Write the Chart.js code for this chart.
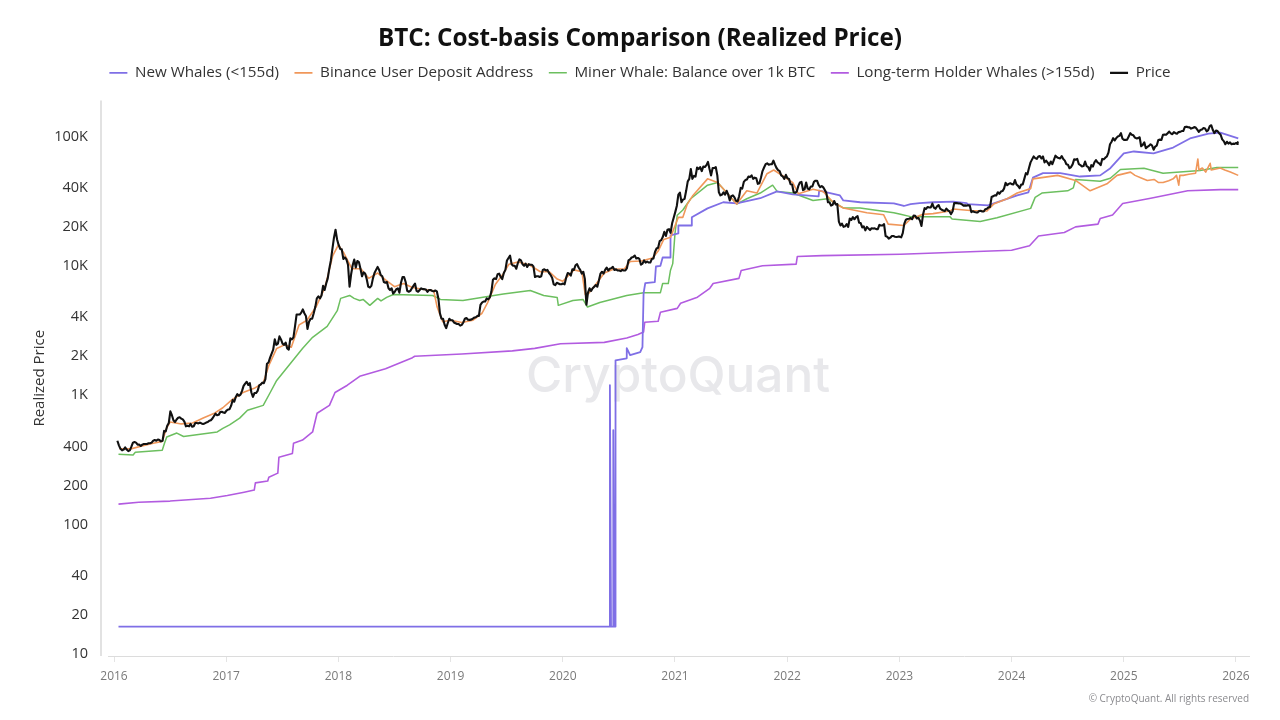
<!DOCTYPE html>
<html><head><meta charset="utf-8">
<script src="https://cdn.jsdelivr.net/npm/chart.js@4"></script>
<style>
html,body{margin:0;padding:0;background:#fff;width:1280px;height:720px;overflow:hidden;font-family:"Open Sans",sans-serif}
#wrap{position:relative;width:1280px;height:720px}
#wm{position:absolute;left:526px;top:344px;font:500 49.5px "Inter","Open Sans",sans-serif;color:#e8e8eb;white-space:nowrap;z-index:0}
#cp{position:absolute;right:31px;top:691px;font:10px "Open Sans",sans-serif;color:#8a8a8e;white-space:nowrap;z-index:2}
canvas{position:absolute;left:0;top:0;z-index:1}
</style></head><body>
<div id="wrap">
<div id="wm">CryptoQuant</div>
<canvas id="c" width="1280" height="720"></canvas>
<div id="cp">© CryptoQuant. All rights reserved</div>
</div>
<script>
const titleText = "BTC: Cost-basis Comparison (Realized Price)";
const yAxisTitle = "Realized Price";
const yearTicks = [2016,2017,2018,2019,2020,2021,2022,2023,2024,2025,2026];
const priceTicks = [10,20,40,100,200,400,1000,2000,4000,10000,20000,40000,100000];

// Price readings: about one every five days, by year
const price2016 = [445,410,385,375,380,395,380,370,375,400,430,435,
430,415,415,405,415,420,420,420,425,425,430,445,
450,445,455,450,440,445,530,525,580,610,750,700,
640,620,650,670,675,660,650,625,575,580,575,600,
570,575,610,610,605,615,605,600,605,615,620,635,
640,660,690,720,700,705,740,745,735,730,760,775];
const price2017 = [780,830,920,890,970,1020,990,1010,1080,1180,1230,1270,
1200,1240,1050,970,1040,1040,1080,1190,1210,1250,1240,1330,
1750,1790,1950,2100,2250,2700,2450,2500,2850,2700,2500,2450,
2550,2300,2250,2750,2700,2800,3400,4200,4200,4200,4350,4600,
4300,4100,3250,3700,3900,3900,4300,4800,5600,5800,5600,5900,
7000,6500,7300,8000,9500,11000,13500,16500,19000,16000,14500,13500];
const price2018 = [13400,11300,11600,11200,10200,6900,8600,10100,11200,9700,10900,10700,
9500,8300,8900,8700,7900,6900,6800,7000,8000,8800,9300,9800,
9300,8500,8300,7500,7400,7500,6700,6500,6700,6100,6300,6600,
6700,6200,7400,8200,8200,7500,6400,6300,6400,6700,7000,7300,
6400,6300,6500,6700,6600,6600,6550,6300,6500,6500,6400,6350,
6450,6350,5600,4300,3900,3900,3500,3300,3600,3900,3800,3800];
const price2019 = [3650,3600,3550,3550,3450,3500,3650,3900,3950,3830,3820,3840,
3900,3980,4000,4100,4100,5000,5200,5300,5300,5600,5500,5700,
6300,7800,8000,7900,8600,8700,8200,7900,8800,9300,11000,11500,
12000,10300,10000,10000,9500,10500,11200,11000,10300,10000,10400,9800,
10300,10200,10200,9900,8200,8300,8300,8200,8300,9300,9400,9200,
9300,8800,8500,8100,7200,7100,7400,7300,7200,7200,7300,7200];
const price2020 = [8100,8800,8700,8400,9400,9300,10100,10300,9700,9300,8700,9000,
7900,5000,6200,6700,6400,6700,6900,7100,6900,7700,8700,9000,
8700,9300,9700,9200,9500,9600,9800,9300,9400,9200,9200,9100,
9300,9200,9200,9600,11000,11200,11600,11700,12000,11400,11500,11300,
10200,10400,11000,10600,10800,10600,10600,11300,11400,12800,13600,13800,
15500,15800,16700,18300,17000,19000,19200,18000,21300,23500,26000,29000];
const price2021 = [35500,36800,31000,32500,33000,38000,44800,47000,56000,47000,49500,48900,
57500,56000,58000,54000,58500,58000,60000,63500,56000,50000,57000,57000,
58000,50000,37000,35000,35500,37000,35500,38000,35500,32000,34500,35000,
33800,31800,31500,34500,40000,39500,44500,46000,46500,49000,48500,50000,
47000,48000,47500,43000,43500,48000,54000,57500,61000,62000,60500,61000,
61000,65000,60500,57000,55000,54000,50000,49000,47000,50500,47500,47000];
const price2022 = [42700,42500,37000,36800,37500,41500,44000,44500,38500,39000,44000,39500,
39000,41000,41000,44500,45500,45500,42200,40500,41400,40400,38600,36500,
31000,31000,29200,29600,31700,29800,30000,22000,20500,21200,20000,20200,
21000,20000,23200,22600,23800,22900,23800,24200,21500,21400,19800,20200,
18800,20000,19400,18900,19500,19400,19500,19200,19200,20700,20500,20500,
21000,17000,16800,16200,16500,17000,17000,16800,16700,16800,16800,16600];
const price2023 = [17900,21200,22700,23000,23100,23400,22900,24500,24400,23200,23500,22400,
20300,24800,27900,27500,28500,28200,28300,30300,28200,27600,28800,29500,
27700,27100,26800,26500,27700,26800,26300,25100,26400,30500,30600,30500,
30300,30300,29800,29200,29300,29200,29400,29200,26000,26400,26100,25900,
25800,26500,26600,26300,26300,27400,27600,28300,28500,34000,34500,35000,
35000,37000,36000,37500,37800,39500,43800,42000,43000,43500,42800,42500];
const price2024 = [46000,42500,41500,39900,42500,42600,47000,52000,51000,57000,63000,66500,
70000,68000,67000,70000,70500,67500,70000,63000,65000,62700,60000,64000,
61000,66000,71000,69000,68000,67500,70500,67000,65000,61000,60500,56800,
58000,60800,66500,66000,67000,61000,60000,58700,59000,64000,59000,58000,
54500,60000,58500,63000,65500,63000,62000,60000,67000,66500,68500,70000,
75000,87000,91000,97000,93000,97000,100000,101000,106000,96000,94000,94000];
const price2025 = [94500,100000,106000,103000,102000,98000,96500,97000,98500,84000,86000,90000,
81000,83000,84500,87000,85000,79000,83500,85000,94000,94500,94000,103000,
103500,103000,106000,109000,105500,104000,108000,106000,105000,108000,108500,110000,
110000,118000,119000,118000,117500,115000,116000,118000,117000,113000,108500,112000,
113000,116000,115000,109500,112000,120000,122000,112000,106000,111000,110000,106000,
103000,95000,92000,87000,91000,88000,90000,87000,88000,87500,89000,87500];
const price2026T = [2026.01,2026.02];
const price2026 = [88500,91500];
const priceRows = [price2016,price2017,price2018,price2019,price2020,price2021,price2022,price2023,price2024,price2025];

const binanceT = [2016.05,2016.15,2016.25,2016.35,2016.43,2016.47,2016.5,2016.6,2016.7,2016.8,2016.9,2016.97,
2017.05,2017.15,2017.25,2017.33,2017.38,2017.45,2017.52,2017.58,2017.65,2017.72,2017.8,2017.88,2017.95,
2018.0,2018.05,2018.12,2018.2,2018.27,2018.35,2018.42,2018.5,2018.58,2018.66,2018.75,2018.85,2018.88,2018.93,
2019.0,2019.1,2019.2,2019.28,2019.33,2019.4,2019.47,2019.52,2019.6,2019.7,2019.8,2019.88,2019.95,
2020.0,2020.1,2020.17,2020.2,2020.23,2020.3,2020.37,2020.45,2020.55,2020.6,2020.7,2020.8,2020.85,2020.9,2020.96,
2021.03,2021.07,2021.11,2021.16,2021.29,2021.38,2021.55,2021.64,2021.73,2021.82,2021.88,2021.97,
2022.05,2022.10,2022.23,2022.32,2022.41,2022.50,2022.71,2022.86,2022.90,
2023.04,2023.10,2023.21,2023.30,2023.45,2023.48,2023.63,2023.78,2023.84,2023.96,
2024.05,2024.17,2024.19,2024.41,2024.57,2024.70,2024.85,2024.94,
2025.06,2025.10,2025.15,2025.21,2025.27,2025.31,2025.35,2025.40,2025.44,2025.47,2025.49,2025.50,2025.53,2025.58,2025.64,2025.66,2025.67,2025.70,2025.73,2025.77,2025.78,2025.82,2025.86,2025.90,2025.95,2026.02];
const binanceV = [385,385,405,425,440,560,620,600,610,670,730,800,
920,1050,1130,1250,1700,2300,2450,2350,3500,3800,4800,6800,12000,
14500,12500,9500,9500,8000,8800,7800,6900,7300,6800,6600,6400,4800,3700,
3800,3650,3800,4300,5200,7200,8700,10300,10700,10200,9000,9000,7900,
7600,9300,9000,6000,6100,7300,8800,9400,9500,10800,10900,11500,13000,16000,16600,
23700,23700,30000,35000,47000,44000,30000,38000,36500,51500,55000,49000,
44000,36000,39000,37500,31000,28000,25700,24800,21000,
20500,23000,25000,25300,26500,27500,26800,26500,30000,33000,
36500,39500,47000,50000,45700,38000,43000,50000,
53000,50000,48000,45700,46500,44000,44000,45500,47000,50000,42000,50000,50000,51000,52000,67000,55000,57000,53000,62000,55000,56000,57000,55000,53000,50000];

const minerT = [2016.04,2016.17,2016.19,2016.43,2016.45,2016.47,2016.56,2016.62,2016.92,2016.97,
2017.03,2017.12,2017.19,2017.33,2017.39,2017.45,2017.68,2017.77,2017.90,2017.99,
2018.02,2018.10,2018.14,2018.19,2018.22,2018.28,2018.35,2018.38,2018.43,2018.49,2018.84,2018.91,
2019.11,2019.33,2019.47,2019.71,2019.83,2019.95,2019.96,
2020.09,2020.18,2020.22,2020.33,2020.57,2020.72,2020.87,2020.89,2020.94,2020.96,2020.98,
2021.00,2021.02,2021.07,2021.14,2021.29,2021.38,2021.55,2021.64,2021.76,2021.87,2021.91,
2022.05,2022.23,2022.36,2022.50,2022.65,2022.95,
2023.01,2023.10,2023.45,2023.47,2023.72,2023.87,
2024.17,2024.21,2024.27,2024.50,2024.55,2024.57,2024.79,2024.88,2024.97,
2025.18,2025.35,2025.68,2025.83,2026.02];
const minerV = [350,345,362,375,425,475,510,480,520,555,
590,665,765,835,1040,1300,2300,2800,3400,4500,
5600,5900,5600,5400,5500,4950,5600,5350,5700,6000,5900,5500,
5400,5800,6050,6450,5900,5700,4950,
5400,5500,4800,5200,5900,6200,6200,7300,7300,9250,10400,
17800,24600,27000,33000,42000,44000,30000,33000,36500,42000,37600,
36500,32000,33000,28000,28000,25700,
25000,24000,24000,23000,22000,23500,
27800,33800,36500,38000,40000,46500,45000,47500,55500,
56800,52000,54600,57600,57600];

const holderT = [2016.04,2016.22,2016.50,2016.86,2017.01,2017.16,2017.25,2017.26,2017.37,2017.38,2017.46,2017.47,2017.59,2017.60,2017.68,2017.77,2017.81,2017.92,2017.97,
2018.08,2018.19,2018.42,2018.66,2018.68,2019.10,2019.55,2019.75,2019.98,
2020.37,2020.57,2020.67,2020.72,2020.73,2020.85,2020.87,2021.02,2021.05,2021.20,2021.31,2021.34,2021.57,2021.59,2021.78,2022.08,2022.09,2022.31,2023.01,
2024.00,2024.16,2024.24,2024.47,2024.57,2024.77,2024.79,2024.90,2024.99,2025.24,2025.57,2025.86,2026.02];
const holderV = [144,149,152,160,168,178,185,210,217,232,250,332,355,425,450,520,725,835,1050,
1195,1400,1600,1950,2000,2080,2200,2300,2500,
2560,2770,2950,3080,3660,3725,4370,4690,5140,5720,6700,7300,8000,9200,10000,10300,11800,12000,12300,
13200,14300,17000,18100,20000,21000,23200,24700,30300,33300,38000,38800,38800];

const whaleT = [2016.04,2020.42,2020.42,2020.43,2020.45,2020.45,2020.46,2020.47,2020.47,2020.57,2020.57,2020.60,2020.69,2020.71,2020.72,2020.735,2020.82,2020.83,2020.87,2020.89,2020.96,2020.96,
2021.03,2021.03,2021.145,2021.15,2021.29,2021.43,2021.55,2021.76,2021.91,
2022.05,2022.28,2022.285,2022.47,2022.50,2022.65,2022.95,
2023.04,2023.10,2023.18,2023.30,2023.48,2023.60,2023.61,2023.79,
2024.05,2024.15,2024.19,2024.28,2024.435,2024.61,2024.79,2024.88,
2025.0,2025.09,2025.265,2025.44,2025.59,2025.755,2025.86,2026.02];
const whaleV = [16.3,16.3,1195,16.3,16.3,537,16.3,16.3,1860,1930,2310,2040,2150,2350,6140,7340,7470,9880,10000,11600,11600,17200,
17800,20500,20500,23700,27800,31000,30400,33300,37600,
35600,34400,38200,35000,32000,31000,30400,
29000,30000,30500,31000,31300,30500,30000,29300,
35000,37000,48000,52000,52000,49000,50000,56800,
74000,76500,74000,82000,96500,105000,107000,96500];

const pts = (t,v)=>t.map((x,i)=>({x,y:v[i]}));
const pricePoints = priceRows.flatMap((row,k)=>row.map((y,i)=>({x:2016+k+0.03+i/row.length,y}))).concat(pts(price2026T,price2026));
const line = (label,color,data,width,order)=>({label,data,borderColor:color,backgroundColor:color,borderWidth:width,pointRadius:0,tension:0,order,borderJoinStyle:'round'});

const axisExtras = {id:'axisExtras',
  beforeInit(chart){const fit=chart.legend.fit;chart.legend.fit=function(){fit.call(this);this.height+=10;};},
  afterDraw(chart){const a=chart.chartArea,c=chart.ctx;c.save();c.strokeStyle='#e2e2e2';c.lineWidth=2;c.beginPath();c.moveTo(a.left-7,a.top);c.lineTo(a.left-7,a.bottom);c.stroke();c.restore();}
};

Chart.defaults.font.family='"Open Sans",sans-serif';
new Chart(document.getElementById('c'),{
  type:'line',
  data:{datasets:[
    line('New Whales (<155d)','#7f6fe6',pts(whaleT,whaleV),1.8,2),
    line('Binance User Deposit Address','#f0975a',pts(binanceT,binanceV),1.6,1),
    line('Miner Whale: Balance over 1k BTC','#6cbf5f',pts(minerT,minerV),1.5,3),
    line('Long-term Holder Whales (>155d)','#b25be0',pts(holderT,holderV),1.6,4),
    line('Price','#111111',pricePoints,2.1,0)
  ]},
  options:{
    responsive:false,animation:false,devicePixelRatio:1,
    parsing:false,
    layout:{padding:{left:31,right:31,top:0,bottom:0}},
    plugins:{
      title:{display:true,text:titleText,color:'#111',font:{size:24.25,weight:'bold',lineHeight:1},padding:{top:27,bottom:-1.5}},
      legend:{display:true,position:'top',labels:{color:'#333',font:{size:15.2},usePointStyle:true,pointStyle:'line',pointStyleWidth:18,padding:15.5,sort:(a,b)=>a.datasetIndex-b.datasetIndex}},
      tooltip:{enabled:false}
    },
    scales:{
      x:{type:'linear',min:2015.9465,max:2026.116,
        afterBuildTicks:s=>{s.ticks=yearTicks.map(v=>({value:v}));},
        afterFit:s=>{s.height=64;},
        grid:{drawOnChartArea:false,drawTicks:true,tickLength:6,color:'#e4e4e4'},
        border:{color:'#dcdcdc',width:1},
        ticks:{color:'#7a7a7a',font:{size:12},padding:7,maxRotation:0,autoSkip:false,callback:v=>String(v)}
      },
      y:{type:'logarithmic',min:9.65,max:189700,
        afterBuildTicks:s=>{s.ticks=priceTicks.map(v=>({value:v}));},
        afterFit:s=>{s.width=77;},
        grid:{display:false,drawTicks:false},
        border:{display:false},
        title:{display:true,text:yAxisTitle,color:'#333',font:{size:15},padding:{top:0,bottom:0}},
        ticks:{color:'#333',font:{size:14.5},padding:20,autoSkip:false,callback:v=>v>=1000?(v/1000)+'K':String(v)}
      }
    }
  },
  plugins:[axisExtras]
});
</script>
</body></html>
